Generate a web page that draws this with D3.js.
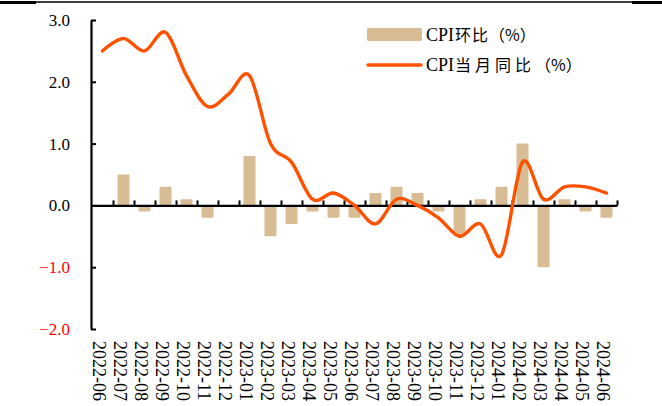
<!DOCTYPE html>
<html>
<head>
<meta charset="utf-8">
<script src="https://cdn.jsdelivr.net/npm/d3@7"></script>
<style>
  body { margin: 0; background: #fff; }
  svg { display: block; }
  .serif { font-family: "Liberation Serif", "Times New Roman", "DejaVu Serif", serif; }
  .cjk { font-family: "Noto Sans CJK SC", sans-serif; }
</style>
</head>
<body>
<div class="chart"></div>
<script>
// months on the x axis
const months = ["2022-06","2022-07","2022-08","2022-09","2022-10","2022-11","2022-12",
  "2023-01","2023-02","2023-03","2023-04","2023-05","2023-06","2023-07","2023-08",
  "2023-09","2023-10","2023-11","2023-12","2024-01","2024-02","2024-03","2024-04",
  "2024-05","2024-06"];
// CPI month on month (%)
const cpiMoM = [0.0,0.5,-0.1,0.3,0.1,-0.2,0.0,0.8,-0.5,-0.3,-0.1,-0.2,-0.2,0.2,0.3,
  0.2,-0.1,-0.5,0.1,0.3,1.0,-1.0,0.1,-0.1,-0.2];
// CPI year on year (%)
const cpiYoY = [2.5,2.7,2.5,2.8,2.1,1.6,1.8,2.1,1.0,0.7,0.1,0.2,0.0,-0.3,0.1,
  0.0,-0.2,-0.5,-0.3,-0.8,0.7,0.1,0.3,0.3,0.2];
const yTicks = [-2,-1,0,1,2,3];
// legend labels: latin part, chinese part, unit
const legendNames = [["CPI","环比","（%）"],["CPI","当月同比","（%）"]];

const W = 662, H = 406;
const barColor = "#d8bc94", lineColor = "#ff5200";

const svg = d3.select(".chart").append("svg")
  .attr("width", W).attr("height", H);

// page rule at the very top
svg.append("line").attr("x1",36).attr("x2",632).attr("y1",2).attr("y2",2)
  .attr("stroke","#000").attr("stroke-width",1.5);
svg.append("line").attr("x1",0).attr("x2",36).attr("y1",2.5).attr("y2",2.5)
  .attr("stroke","#000").attr("stroke-width",3);
svg.append("line").attr("x1",632).attr("x2",662).attr("y1",2.5).attr("y2",2.5)
  .attr("stroke","#000").attr("stroke-width",3);

const left = 92, right = 617;
let x = d3.scaleBand().domain(months).range([left, right])
  .paddingInner(0.43).paddingOuter(0.215);
let y = d3.scaleLinear().domain([-2, 3]).range([329, 20]);

// bars
svg.append("g").selectAll("rect")
  .data(months)
  .enter().append("rect")
  .attr("x", d => x(d))
  .attr("width", x.bandwidth())
  .attr("y", (d,i) => y(Math.max(0, cpiMoM[i])))
  .attr("height", (d,i) => Math.abs(y(cpiMoM[i]) - y(0)))
  .attr("fill", barColor)
  .attr("rx", 1);

// x axis with ticks between categories, pointing up
let xb = d3.scaleLinear().domain([0, months.length]).range([left, right]);
svg.append("g")
  .attr("transform", `translate(0,${y(0)})`)
  .call(d3.axisBottom(xb).tickValues(d3.range(1, months.length + 1))
    .tickSize(-5).tickSizeOuter(0).tickFormat(""))
  .call(g => g.select(".domain").attr("stroke-width", 2.2))
  .call(g => g.selectAll(".tick line").attr("stroke-width", 2));

// y axis, ticks pointing inward
svg.append("g")
  .attr("transform", `translate(${left - 1},0)`)
  .call(d3.axisLeft(y).tickValues(yTicks).tickFormat(d3.format(".1f"))
    .tickSize(-5).tickSizeOuter(0).tickPadding(21))
  .attr("font-family", null)
  .call(g => g.select(".domain").attr("stroke-width", 2.2))
  .call(g => g.selectAll(".tick line").attr("stroke-width", 2))
  .call(g => g.selectAll(".tick text")
    .attr("class", "serif").style("font-size", "17px")
    .attr("fill", d => d < 0 ? "#ff0000" : "#000"));

// year on year line
let line = d3.line()
  .x((d,i) => x(months[i]) + x.bandwidth() / 2)
  .y(d => y(d))
  .curve(d3.curveCardinal.tension(0));
svg.append("path")
  .datum(cpiYoY)
  .attr("d", line)
  .attr("fill", "none")
  .attr("stroke", lineColor)
  .attr("stroke-width", 3.4)
  .attr("stroke-linecap", "round")
  .attr("stroke-linejoin", "round");

// month labels
svg.append("g").selectAll("text")
  .data(months)
  .enter().append("text")
  .attr("class", "serif")
  .attr("transform", d => `translate(${x(d) + x.bandwidth() / 2 - 3},341) rotate(90)`)
  .attr("dy", "0.35em")
  .style("font-size", "18px")
  .text(d => d);

// legend
svg.append("rect")
  .attr("x", 367).attr("y", 28).attr("width", 55).attr("height", 13)
  .attr("rx", 1.5).attr("fill", barColor);
svg.append("line")
  .attr("x1", 368).attr("x2", 421).attr("y1", 65).attr("y2", 65)
  .attr("stroke", lineColor).attr("stroke-width", 3.5).attr("stroke-linecap", "round");

let legendY = [41, 71];
legendNames.forEach((parts, i) => {
  let t = svg.append("text").attr("x", 426).attr("y", legendY[i]);
  t.append("tspan").attr("class", "serif").style("font-size", "18px").text(parts[0]);
  t.append("tspan").attr("class", "cjk").style("font-size", "16px")
    .attr("dx", 1).style("letter-spacing", i ? "4px" : "1px").text(parts[1]);
  t.append("tspan").attr("class", "cjk").style("font-size", "16px").text(parts[2]);
});
</script>
</body>
</html>
